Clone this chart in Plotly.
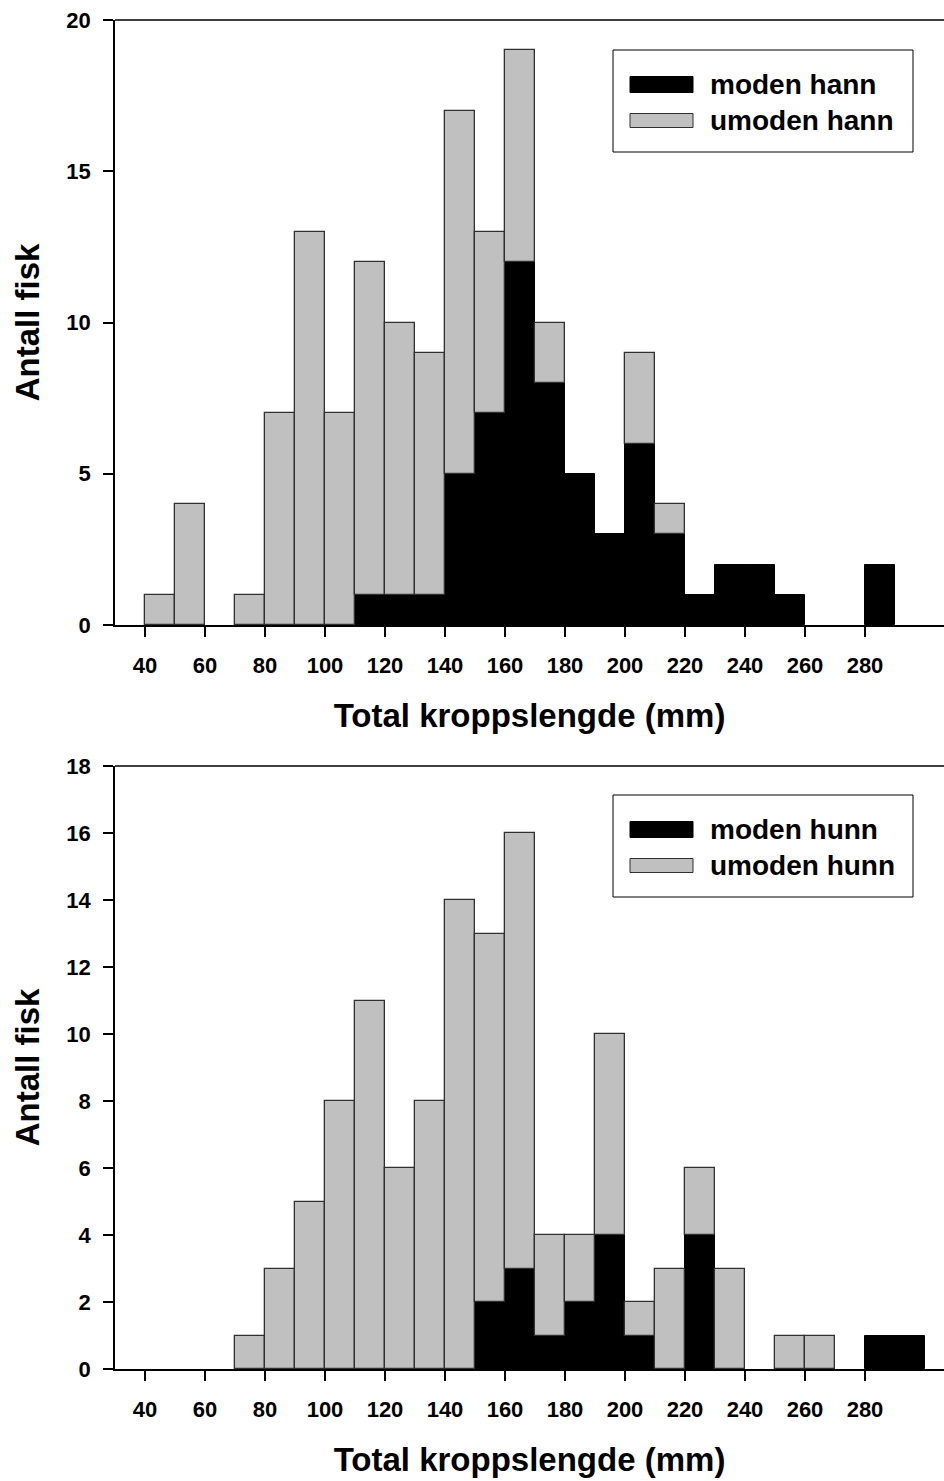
import plotly.graph_objects as go

# Length classes (lower bin edge, mm) and fish counts per class
bins_hann = [40, 50, 60, 70, 80, 90, 100, 110, 120, 130, 140, 150, 160, 170, 180,
             190, 200, 210, 220, 230, 240, 250, 260, 270, 280]
moden_hann = [0, 0, 0, 0, 0, 0, 0, 1, 1, 1, 5, 7, 12, 8, 5,
              3, 6, 3, 1, 2, 2, 1, 0, 0, 2]
umoden_hann = [1, 4, 0, 1, 7, 13, 7, 11, 9, 8, 12, 6, 7, 2, 0,
               0, 3, 1, 0, 0, 0, 0, 0, 0, 0]

bins_hunn = [40, 50, 60, 70, 80, 90, 100, 110, 120, 130, 140, 150, 160, 170, 180,
             190, 200, 210, 220, 230, 240, 250, 260, 270, 280, 290]
moden_hunn = [0, 0, 0, 0, 0, 0, 0, 0, 0, 0, 0, 2, 3, 1, 2,
              4, 1, 0, 4, 0, 0, 0, 0, 0, 1, 1]
umoden_hunn = [0, 0, 0, 1, 3, 5, 8, 11, 6, 8, 14, 11, 13, 3, 2,
               6, 1, 3, 2, 3, 0, 1, 1, 0, 0, 0]

x_ticks = [40, 60, 80, 100, 120, 140, 160, 180, 200, 220, 240, 260, 280]
y_ticks_hann = [0, 5, 10, 15, 20]
y_ticks_hunn = [0, 2, 4, 6, 8, 10, 12, 14, 16, 18]

BIN = 10
FONT = "Liberation Sans, Arial, sans-serif"
BLACK = "#000000"
GREY = "#c0c0c0"
EDGE = "#303030"

fig = go.Figure()


def nz(vals):
    # empty classes are left undrawn so no outline sits on the axis
    return [v if v else None for v in vals]


def add_panel(bins, moden, umoden, xa, ya):
    centers = [b + BIN / 2 for b in bins]
    fig.add_trace(go.Bar(x=centers, y=nz(moden), width=[BIN] * len(bins),
                         marker=dict(color=BLACK, line=dict(color=BLACK, width=1)),
                         xaxis=xa, yaxis=ya, showlegend=False))
    fig.add_trace(go.Bar(x=centers, y=nz(umoden), base=moden, width=[BIN] * len(bins),
                         marker=dict(color=GREY, line=dict(color=EDGE, width=1.3)),
                         xaxis=xa, yaxis=ya, showlegend=False))


add_panel(bins_hann, moden_hann, umoden_hann, "x", "y")
add_panel(bins_hunn, moden_hunn, umoden_hunn, "x2", "y2")

tick_font = dict(family=FONT, size=22, color="black")
title_font = dict(family=FONT, size=33, color="black")

xcommon = dict(range=[30, 306.33], tickvals=x_ticks, ticks="outside", ticklen=10,
               tickwidth=1.5, tickcolor="black", showline=True, linecolor="black",
               linewidth=1.5, showgrid=False, zeroline=False, tickfont=tick_font,
               ticklabelstandoff=10,
               title=dict(text="<b>Total kroppslengde (mm)</b>", font=title_font,
                          standoff=27))
ycommon = dict(ticks="outside", ticklen=10, tickwidth=1.5, tickcolor="black",
               showline=True, linecolor="black", linewidth=1.5, showgrid=False,
               zeroline=False, tickfont=tick_font, ticklabelstandoff=8,
               title=dict(text="<b>Antall fisk</b>", font=title_font, standoff=17))

top_dom = [744 / 1349, 1.0]
bot_dom = [0.0, 603 / 1349]

fig.update_layout(
    width=944, height=1481,
    margin=dict(l=115, r=0, t=20, b=112),
    paper_bgcolor="white", plot_bgcolor="white",
    barmode="overlay", bargap=0,
    showlegend=False,
    xaxis=dict(**xcommon, anchor="y", ticktext=[f"<b>{v}</b>" for v in x_ticks]),
    yaxis=dict(**ycommon, domain=top_dom, range=[0, 20], tickvals=y_ticks_hann,
               ticktext=[f"<b>{v}</b>" for v in y_ticks_hann], anchor="x"),
    xaxis2=dict(**xcommon, anchor="y2", ticktext=[f"<b>{v}</b>" for v in x_ticks]),
    yaxis2=dict(**ycommon, domain=bot_dom, range=[0, 18], tickvals=y_ticks_hunn,
                ticktext=[f"<b>{v}</b>" for v in y_ticks_hunn], anchor="x2"),
)

# Top frame line of each panel
for dom in (top_dom, bot_dom):
    fig.add_shape(type="line", xref="paper", yref="paper", x0=0, x1=1,
                  y0=dom[1], y1=dom[1], line=dict(color="black", width=1.5))


# Legend boxes placed in pixel terms, converted to paper coordinates
def px_x(p):
    return (p - 115) / 829


def px_y(p):
    return (1369 - p) / 1349


def add_legend(top, labels):
    fig.add_shape(type="rect", xref="paper", yref="paper",
                  x0=px_x(613), x1=px_x(913), y0=px_y(top), y1=px_y(top + 102),
                  line=dict(color="black", width=1), fillcolor="white", layer="above")
    for i, (lab, col) in enumerate(zip(labels, [BLACK, GREY])):
        cy = top + 34.5 + i * 36
        half = 8 if i == 0 else 7
        fig.add_shape(type="rect", xref="paper", yref="paper",
                      x0=px_x(630), x1=px_x(693), y0=px_y(cy - half), y1=px_y(cy + half),
                      line=dict(color=BLACK if i == 0 else EDGE, width=1),
                      fillcolor=col, layer="above")
        fig.add_annotation(xref="paper", yref="paper", x=px_x(708), y=px_y(cy),
                           text=f"<b>{lab}</b>", showarrow=False, xanchor="left",
                           yanchor="middle",
                           font=dict(family=FONT, size=28, color="black"))


add_legend(50, ["moden hann", "umoden hann"])
add_legend(795, ["moden hunn", "umoden hunn"])

fig.write_html("out.html")
